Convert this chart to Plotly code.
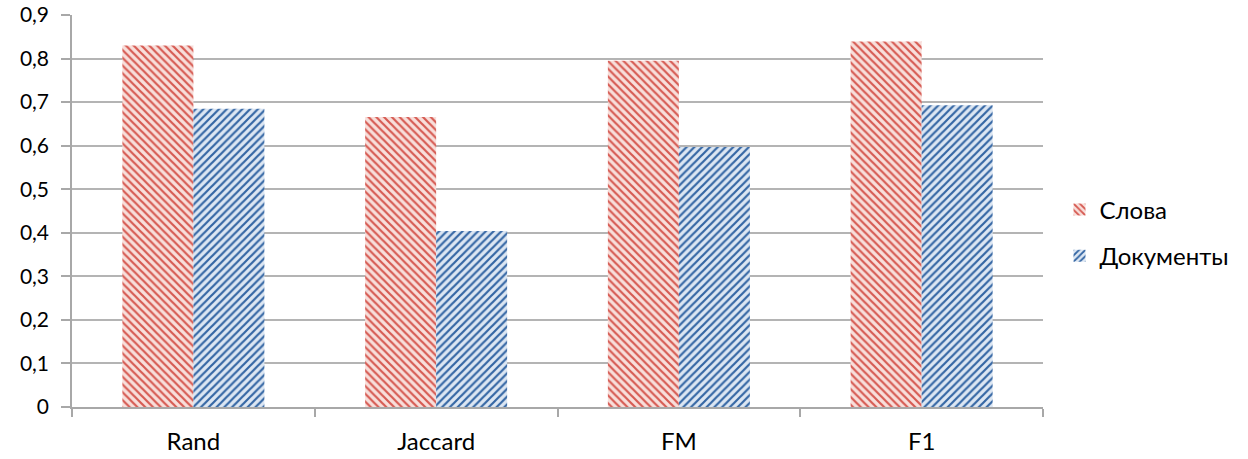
import plotly.graph_objects as go

categories = ["Rand", "Jaccard", "FM", "F1"]
slova = [0.83, 0.666, 0.795, 0.839]
dokumenty = [0.685, 0.404, 0.597, 0.693]
y_ticks = [0, 0.1, 0.2, 0.3, 0.4, 0.5, 0.6, 0.7, 0.8, 0.9]
y_tick_text = ["0", "0,1", "0,2", "0,3", "0,4", "0,5", "0,6", "0,7", "0,8", "0,9"]

font_family = "Lato, Open Sans, Liberation Sans, sans-serif"

fig = go.Figure()
fig.add_trace(go.Bar(
    x=categories, y=slova, name="Слова", legendgroup="a",
    marker=dict(
        color="#d9625b",
        line=dict(width=0),
        pattern=dict(shape="\\", fgcolor="#d65a52", bgcolor="#f8dfdb",
                     size=5.5, solidity=0.4, fgopacity=1),
    ),
))
fig.add_trace(go.Bar(
    x=categories, y=dokumenty, name="Документы", legendgroup="b",
    marker=dict(
        color="#3767a3",
        line=dict(width=0),
        pattern=dict(shape="/", fgcolor="#3466a4", bgcolor="#dde7f3",
                     size=5.5, solidity=0.4, fgopacity=1),
    ),
))

fig.update_layout(
    width=1248, height=459,
    margin=dict(l=72, r=205, t=15, b=52),
    paper_bgcolor="white", plot_bgcolor="white",
    barmode="group", bargap=0.415, bargroupgap=0,
    font=dict(family=font_family, size=21, color="#000000"),
    showlegend=True,
    legend=dict(
        x=1.017, y=0.444, xanchor="left", yanchor="middle",
        traceorder="grouped", tracegroupgap=12,
        font=dict(size=24),
        itemwidth=30,
    ),
    xaxis=dict(
        showgrid=False, showline=True, linecolor="#a8a8a8", linewidth=1.5,
        ticks="outside", tickson="boundaries", ticklen=8, tickcolor="#a8a8a8",
        tickwidth=1.5, tickfont=dict(size=24), ticklabelstandoff=12,
        automargin=False,
    ),
    yaxis=dict(
        range=[0, 0.9], tickvals=y_ticks, ticktext=y_tick_text,
        showgrid=True, gridcolor="#b4b4b4", gridwidth=1.5,
        showline=True, linecolor="#a8a8a8", linewidth=1.5,
        ticks="outside", ticklen=9, tickcolor="#a8a8a8", tickwidth=1.5,
        tickfont=dict(size=21), zeroline=False, automargin=False,
        ticklabelstandoff=8,
    ),
)

fig.write_html("out.html")
